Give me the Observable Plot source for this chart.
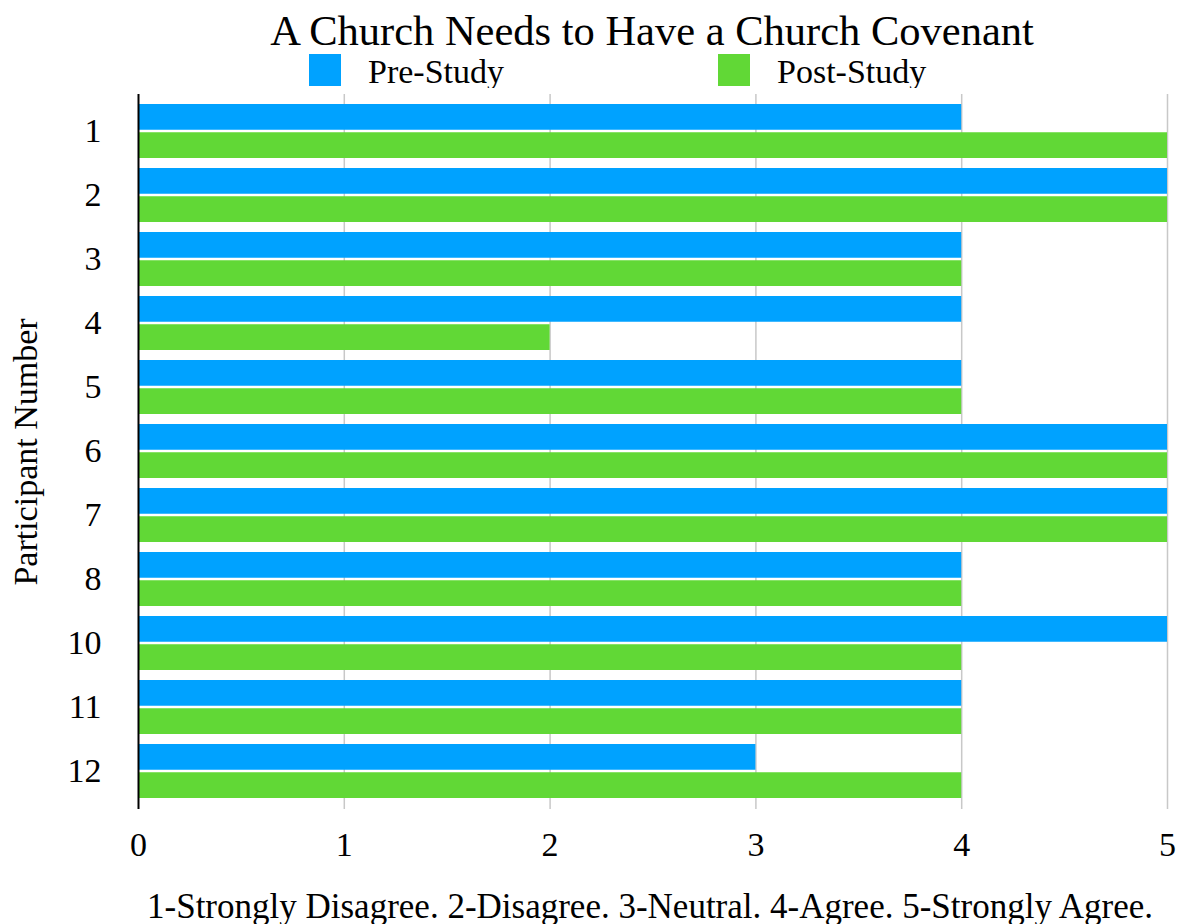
<!DOCTYPE html>
<html>
<head>
<meta charset="utf-8">
<script src="https://cdn.jsdelivr.net/npm/d3@7"></script>
<script src="https://cdn.jsdelivr.net/npm/@observablehq/plot@0.6"></script>
<style>
  html, body { margin: 0; padding: 0; background: #fff; }
  body { width: 1178px; height: 924px; overflow: hidden; position: relative;
         font-family: "Liberation Serif", "Times New Roman", serif; color: #000; }
  .title { position: absolute; left: 652px; top: 10px; transform: translateX(-50%);
           font-size: 42.5px; line-height: 42px; white-space: nowrap; }
  .swatch { position: absolute; top: 54px; width: 32px; height: 32px; }
  .key { position: absolute; top: 54.5px; font-size: 34px; line-height: 34px; white-space: nowrap; }
  #chart { position: absolute; left: 0; top: 88px; }
  .caption { position: absolute; left: 650px; top: 888.5px; transform: translateX(-50%);
             font-size: 35px; line-height: 35px; white-space: nowrap; }
</style>
</head>
<body>
<div class="title" id="title"></div>
<div id="legend"></div>
<div id="chart"></div>
<div class="caption" id="caption"></div>
<script>
// Survey responses per participant (participant 9 not reported)
const participants = ["1", "2", "3", "4", "5", "6", "7", "8", "10", "11", "12"];
const preStudy  = [4, 5, 4, 4, 4, 5, 5, 4, 5, 4, 3];
const postStudy = [5, 5, 4, 2, 4, 5, 5, 4, 4, 4, 4];
const xTicks = [0, 1, 2, 3, 4, 5];

const seriesNames = ["Pre-Study", "Post-Study"];
const seriesColors = ["#00A2FF", "#61D836"];

const titleText = "A Church Needs to Have a Church Covenant";
const yLabel = "Participant Number";
const captionText = "1-Strongly Disagree. 2-Disagree. 3-Neutral. 4-Agree. 5-Strongly Agree.";

const rows = participants.map((p, i) => ({participant: p, pre: preStudy[i], post: postStudy[i]}));

document.getElementById("title").textContent = titleText;
document.getElementById("caption").textContent = captionText;

// Legend: swatch followed by series name
const legend = document.getElementById("legend");
const legendX = [309, 718];
seriesNames.forEach((name, i) => {
  const sw = document.createElement("div");
  sw.className = "swatch";
  sw.style.left = legendX[i] + "px";
  sw.style.background = seriesColors[i];
  legend.appendChild(sw);
  const t = document.createElement("div");
  t.className = "key";
  t.style.left = (legendX[i] + 59) + "px";
  t.textContent = name;
  legend.appendChild(t);
});

// Layout
const width = 1178, height = 791;
const marginTop = 6, marginBottom = 70, marginLeft = 138, marginRight = 11;
const bandPadding = 0.15;
const plotH = height - marginTop - marginBottom;
const step = plotH / (participants.length + bandPadding);
const bandwidth = step * (1 - bandPadding);
const half = bandwidth / 2 + 1; // leaves a 2px gap between paired bars

const chart = Plot.plot({
  width, height, marginTop, marginBottom, marginLeft, marginRight,
  style: {fontFamily: "Liberation Serif, Times New Roman, serif", color: "#000", background: "#fff"},
  x: {domain: [0, 5]},
  y: {domain: participants, padding: bandPadding},
  marks: [
    Plot.gridX(xTicks.filter(d => d > 0), {stroke: "#c8c8c8", strokeOpacity: 1, strokeWidth: 1.5}),
    Plot.barX(rows, {x: "pre", y: "participant", fill: seriesColors[0], insetBottom: half}),
    Plot.barX(rows, {x: "post", y: "participant", fill: seriesColors[1], insetTop: half}),
    Plot.ruleX([0], {stroke: "#000", strokeWidth: 2}),
    Plot.axisX({ticks: xTicks, tickFormat: "d", tickSize: 0, tickPadding: 22, fontSize: 34, label: null}),
    Plot.axisY({tickSize: 0, tickPadding: 37, fontSize: 34, label: yLabel, labelAnchor: "center", labelOffset: 126})
  ]
});
document.getElementById("chart").appendChild(chart);
</script>
</body>
</html>
